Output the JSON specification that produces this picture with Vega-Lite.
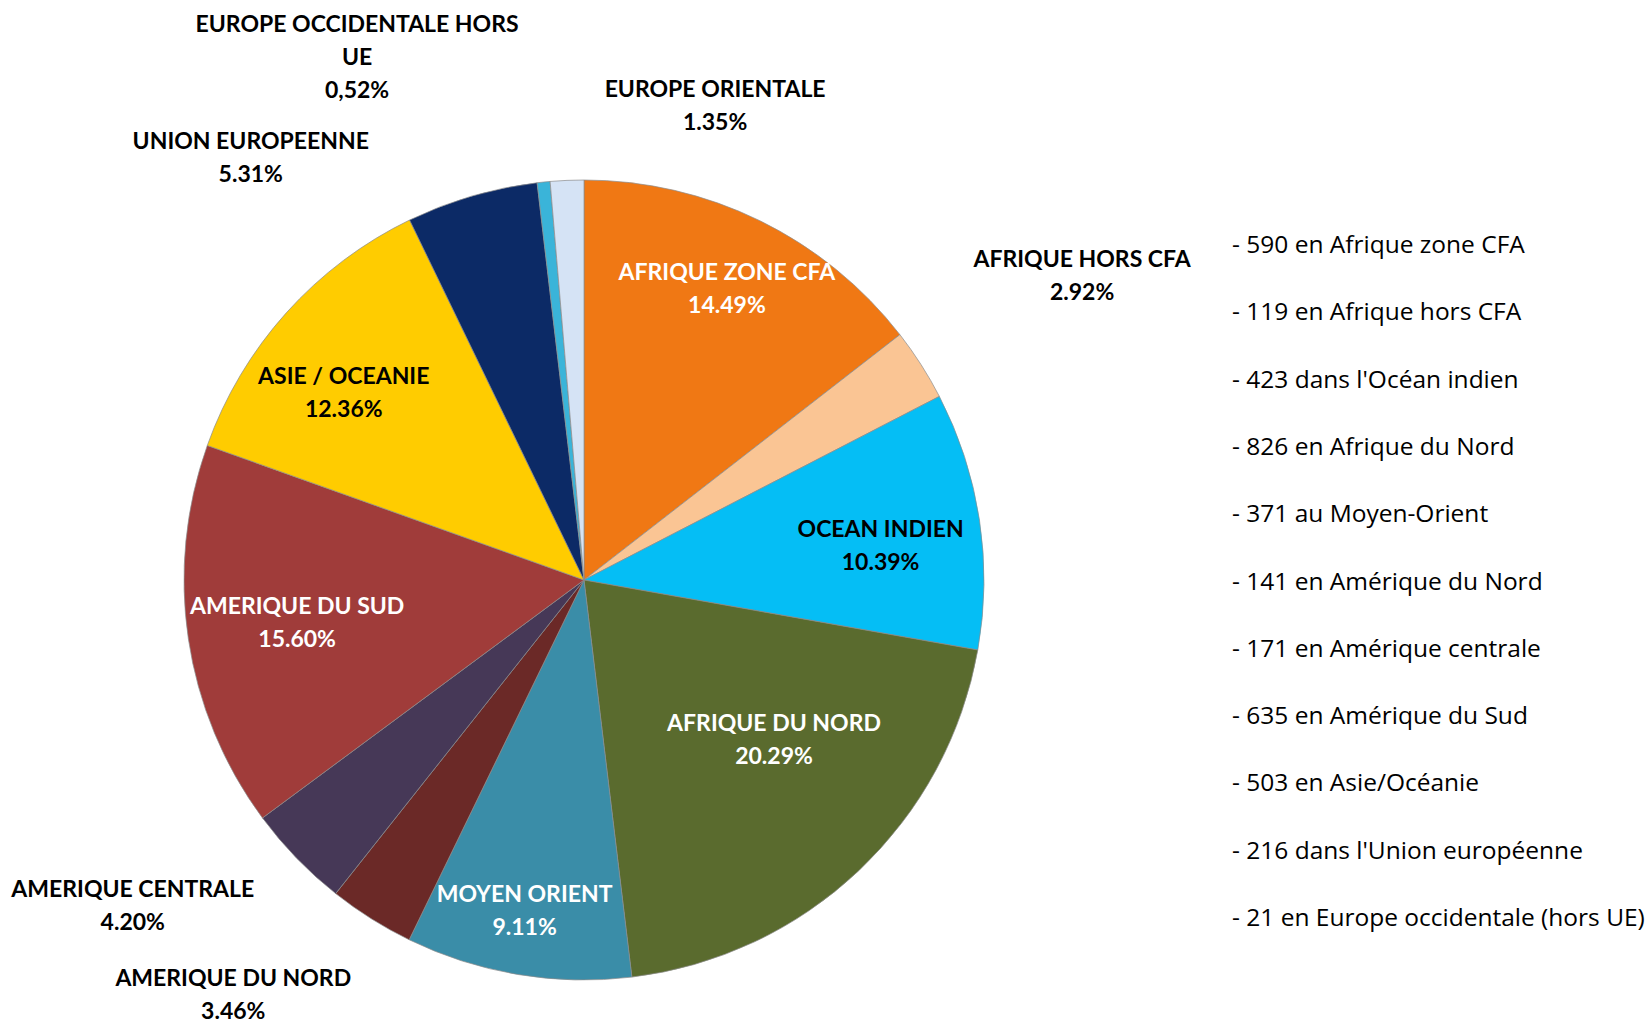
{
  "$schema": "https://vega.github.io/schema/vega-lite/v6.json",
  "autosize": {"type": "none"},
  "padding": {"left": 143, "top": 139, "right": 623, "bottom": 0},
  "background": "white",
  "width": 882,
  "height": 882,
  "config": {"view": {"stroke": null}},
  "datasets": {
    "slices": [
      {"idx": 1, "region": "AFRIQUE ZONE CFA", "pct": 14.49, "label": "AFRIQUE ZONE CFA\n14.49%"},
      {"idx": 2, "region": "AFRIQUE HORS CFA", "pct": 2.92, "label": "AFRIQUE HORS CFA\n2.92%"},
      {"idx": 3, "region": "OCEAN INDIEN", "pct": 10.39, "label": "OCEAN INDIEN\n10.39%"},
      {"idx": 4, "region": "AFRIQUE DU NORD", "pct": 20.29, "label": "AFRIQUE DU NORD\n20.29%"},
      {"idx": 5, "region": "MOYEN ORIENT", "pct": 9.11, "label": "MOYEN ORIENT\n9.11%"},
      {"idx": 6, "region": "AMERIQUE DU NORD", "pct": 3.46, "label": "AMERIQUE DU NORD\n3.46%"},
      {"idx": 7, "region": "AMERIQUE CENTRALE", "pct": 4.20, "label": "AMERIQUE CENTRALE\n4.20%"},
      {"idx": 8, "region": "AMERIQUE DU SUD", "pct": 15.60, "label": "AMERIQUE DU SUD\n15.60%"},
      {"idx": 9, "region": "ASIE / OCEANIE", "pct": 12.36, "label": "ASIE / OCEANIE\n12.36%"},
      {"idx": 10, "region": "UNION EUROPEENNE", "pct": 5.31, "label": "UNION EUROPEENNE\n5.31%"},
      {"idx": 11, "region": "EUROPE OCCIDENTALE HORS UE", "pct": 0.52, "label": "EUROPE OCCIDENTALE HORS\nUE\n0,52%"},
      {"idx": 12, "region": "EUROPE ORIENTALE", "pct": 1.35, "label": "EUROPE ORIENTALE\n1.35%"}
    ],
    "list": [
      {"t": "- 590 en Afrique zone CFA"},
      {"t": "- 119 en Afrique hors CFA"},
      {"t": "- 423 dans l'Océan indien"},
      {"t": "- 826 en Afrique du Nord"},
      {"t": "- 371 au Moyen-Orient"},
      {"t": "- 141 en Amérique du Nord"},
      {"t": "- 171 en Amérique centrale"},
      {"t": "- 635 en Amérique du Sud"},
      {"t": "- 503 en Asie/Océanie"},
      {"t": "- 216 dans l'Union européenne"},
      {"t": "- 21 en Europe occidentale (hors UE)"}
    ]
  },
  "layer": [
    {
      "data": {"name": "slices"},
      "encoding": {
        "theta": {"field": "pct", "type": "quantitative", "stack": true},
        "order": {"field": "idx", "type": "quantitative"}
      },
      "layer": [
        {
          "mark": {"type": "arc", "outerRadius": 400, "stroke": "#8c8c8c", "strokeWidth": 1, "strokeOpacity": 0.7},
          "encoding": {
            "color": {
              "field": "region", "type": "nominal", "legend": null,
              "scale": {
                "domain": ["AFRIQUE ZONE CFA", "AFRIQUE HORS CFA", "OCEAN INDIEN", "AFRIQUE DU NORD", "MOYEN ORIENT", "AMERIQUE DU NORD", "AMERIQUE CENTRALE", "AMERIQUE DU SUD", "ASIE / OCEANIE", "UNION EUROPEENNE", "EUROPE OCCIDENTALE HORS UE", "EUROPE ORIENTALE"],
                "range": ["#F07814", "#FAC594", "#05BEF5", "#5A6B2E", "#3A8DA8", "#6B2927", "#463857", "#A03C3A", "#FFCC00", "#0C2A66", "#3AB4D9", "#D5E3F5"]
              }
            }
          }
        },
        {
          "mark": {"type": "text", "radius": 325, "dy": -15, "font": "Lato", "fontSize": 23, "fontWeight": "bold", "lineBreak": "\n", "lineHeight": 33, "align": "center", "baseline": "middle", "fill": "white"},
          "encoding": {"text": {"condition": {"test": "datum.idx === 1", "field": "label"}, "value": ""}}
        },
        {
          "mark": {"type": "text", "radius": 584, "dx": 6, "dy": -6, "font": "Lato", "fontSize": 23, "fontWeight": "bold", "lineBreak": "\n", "lineHeight": 33, "align": "center", "baseline": "middle", "fill": "black"},
          "encoding": {"text": {"condition": {"test": "datum.idx === 2", "field": "label"}, "value": ""}}
        },
        {
          "mark": {"type": "text", "radius": 300, "dy": -5, "font": "Lato", "fontSize": 23, "fontWeight": "bold", "lineBreak": "\n", "lineHeight": 33, "align": "center", "baseline": "middle", "fill": "black"},
          "encoding": {"text": {"condition": {"test": "datum.idx === 3", "field": "label"}, "value": ""}}
        },
        {
          "mark": {"type": "text", "radius": 246, "dx": 21, "dy": -35, "font": "Lato", "fontSize": 23, "fontWeight": "bold", "lineBreak": "\n", "lineHeight": 33, "align": "center", "baseline": "middle", "fill": "white"},
          "encoding": {"text": {"condition": {"test": "datum.idx === 4", "field": "label"}, "value": ""}}
        },
        {
          "mark": {"type": "text", "radius": 335, "dx": -4, "dy": -15, "font": "Lato", "fontSize": 23, "fontWeight": "bold", "lineBreak": "\n", "lineHeight": 33, "align": "center", "baseline": "middle", "fill": "white"},
          "encoding": {"text": {"condition": {"test": "datum.idx === 5", "field": "label"}, "value": ""}}
        },
        {
          "mark": {"type": "text", "radius": 537, "dx": -65, "dy": -56, "font": "Lato", "fontSize": 23, "fontWeight": "bold", "lineBreak": "\n", "lineHeight": 33, "align": "center", "baseline": "middle", "fill": "black"},
          "encoding": {"text": {"condition": {"test": "datum.idx === 6", "field": "label"}, "value": ""}}
        },
        {
          "mark": {"type": "text", "radius": 550, "dx": -56, "dy": -73, "font": "Lato", "fontSize": 23, "fontWeight": "bold", "lineBreak": "\n", "lineHeight": 33, "align": "center", "baseline": "middle", "fill": "black"},
          "encoding": {"text": {"condition": {"test": "datum.idx === 7", "field": "label"}, "value": ""}}
        },
        {
          "mark": {"type": "text", "radius": 290, "dy": -15, "font": "Lato", "fontSize": 23, "fontWeight": "bold", "lineBreak": "\n", "lineHeight": 33, "align": "center", "baseline": "middle", "fill": "white"},
          "encoding": {"text": {"condition": {"test": "datum.idx === 8", "field": "label"}, "value": ""}}
        },
        {
          "mark": {"type": "text", "radius": 304, "dx": -14, "dy": 0, "font": "Lato", "fontSize": 23, "fontWeight": "bold", "lineBreak": "\n", "lineHeight": 33, "align": "center", "baseline": "middle", "fill": "black"},
          "encoding": {"text": {"condition": {"test": "datum.idx === 9", "field": "label"}, "value": ""}}
        },
        {
          "mark": {"type": "text", "radius": 500, "dx": -193, "dy": 42, "font": "Lato", "fontSize": 23, "fontWeight": "bold", "lineBreak": "\n", "lineHeight": 33, "align": "center", "baseline": "middle", "fill": "black"},
          "encoding": {"text": {"condition": {"test": "datum.idx === 10", "field": "label"}, "value": ""}}
        },
        {
          "mark": {"type": "text", "radius": 544, "dx": -172, "dy": -14, "font": "Lato", "fontSize": 23, "fontWeight": "bold", "lineBreak": "\n", "lineHeight": 33, "align": "center", "baseline": "middle", "fill": "black"},
          "encoding": {"text": {"condition": {"test": "datum.idx === 11", "field": "label"}, "value": ""}}
        },
        {
          "mark": {"type": "text", "radius": 469, "dx": 151, "dy": -21, "font": "Lato", "fontSize": 23, "fontWeight": "bold", "lineBreak": "\n", "lineHeight": 33, "align": "center", "baseline": "middle", "fill": "black"},
          "encoding": {"text": {"condition": {"test": "datum.idx === 12", "field": "label"}, "value": ""}}
        }
      ]
    },
    {
      "data": {"name": "list"},
      "mark": {"type": "text", "font": "Open Sans", "fontSize": 24.5, "align": "left", "baseline": "middle", "fill": "black", "x": "width", "dx": 207},
      "encoding": {
        "y": {"field": "t", "type": "nominal", "sort": null, "axis": null, "scale": {"type": "point", "range": [107, 780], "padding": 0}},
        "text": {"field": "t"}
      }
    }
  ]
}
